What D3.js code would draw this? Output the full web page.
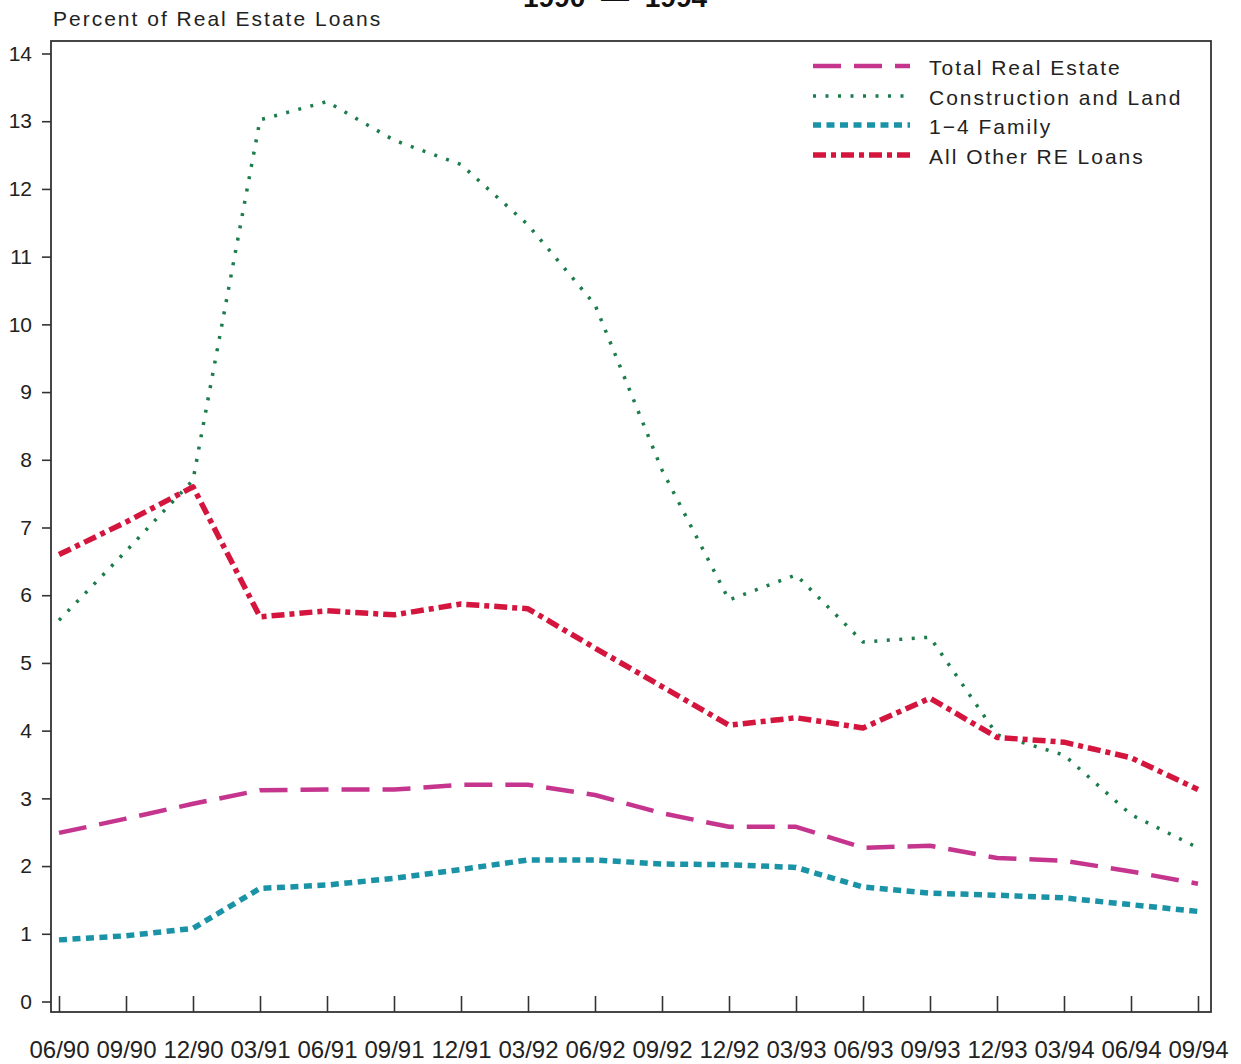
<!DOCTYPE html>
<html><head><meta charset="utf-8">
<script src="https://cdn.jsdelivr.net/npm/d3@7"></script>
<style>html,body{margin:0;padding:0;background:#fff;}svg{display:block;}</style>
</head><body>
<script>
const categories = ["06/90","09/90","12/90","03/91","06/91","09/91","12/91","03/92","06/92","09/92","12/92","03/93","06/93","09/93","12/93","03/94","06/94","09/94"];
const totalRealEstate = [2.49,2.70,2.92,3.12,3.13,3.13,3.20,3.20,3.05,2.78,2.58,2.58,2.27,2.30,2.12,2.08,1.92,1.74];
const constructionLand = [5.63,6.65,7.70,13.02,13.29,12.72,12.36,11.47,10.29,7.85,5.93,6.30,5.31,5.38,3.94,3.64,2.76,2.27];
const oneToFourFamily = [0.91,0.97,1.08,1.67,1.72,1.82,1.95,2.09,2.09,2.03,2.02,1.98,1.69,1.60,1.57,1.53,1.43,1.33];
const allOtherRE = [6.60,7.08,7.60,5.68,5.77,5.71,5.87,5.80,5.22,4.65,4.08,4.19,4.04,4.48,3.90,3.83,3.60,3.13];
const yTicks = [0,1,2,3,4,5,6,7,8,9,10,11,12,13,14];
const seriesNames = ["Total Real Estate","Construction and Land","1\u22124 Family","All Other RE Loans"];

const series = [
  {name: seriesNames[0], values: totalRealEstate, color: "#c5358e", width: 4.5, dash: "28,13", cap: "butt"},
  {name: seriesNames[1], values: constructionLand, color: "#1d7c4c", width: 3.5, dash: "3,9.5", cap: "butt"},
  {name: seriesNames[2], values: oneToFourFamily, color: "#1a93a6", width: 5.5, dash: "8,5.5", cap: "butt"},
  {name: seriesNames[3], values: allOtherRE, color: "#d4163e", width: 5.5, dash: "13,5,5,5", cap: "butt"}
];

const W = 1241, H = 1064;
const svg = d3.select("body").append("svg").attr("width", W).attr("height", H)
  .style("font-family", "'Liberation Sans', Arial, sans-serif");

const frame = {left: 51, top: 41, right: 1211, bottom: 1012};
const x = d3.scalePoint().domain(categories).range([59, 1198]);
const y = d3.scaleLinear().domain([0, 14]).range([1001.5, 53.5]);

// title (cropped at top, as in the reference)
svg.append("text").attr("x", 615).attr("y", 7).attr("text-anchor", "middle")
  .style("font-weight", "bold").style("font-size", "28px").style("word-spacing", "8px")
  .attr("fill", "#111").text("1990 \u2014 1994");

// y axis title
svg.append("text").attr("x", 53).attr("y", 26)
  .style("font-size", "21px").style("letter-spacing", "2px")
  .attr("fill", "#222").text("Percent of Real Estate Loans");

// frame
svg.append("rect").attr("x", frame.left).attr("y", frame.top)
  .attr("width", frame.right - frame.left).attr("height", frame.bottom - frame.top)
  .attr("fill", "none").attr("stroke", "#333").attr("stroke-width", 1.8);

// y axis
const yAxis = svg.append("g").attr("transform", `translate(${frame.left},0)`)
  .call(d3.axisLeft(y).tickValues(yTicks).tickSize(9).tickPadding(10).tickFormat(d3.format("d")));
yAxis.select(".domain").remove();
yAxis.selectAll(".tick line").attr("stroke", "#333").attr("stroke-width", 1.6);
yAxis.selectAll(".tick text").style("font-size", "21px").style("font-family", "'Liberation Sans', Arial, sans-serif").attr("fill", "#222");

// x axis
const xAxis = svg.append("g").attr("transform", `translate(0,${frame.bottom})`)
  .call(d3.axisBottom(x).tickSizeInner(-16).tickSizeOuter(0).tickPadding(0));
xAxis.select(".domain").remove();
xAxis.selectAll(".tick line").attr("stroke", "#333").attr("stroke-width", 1.6);
xAxis.selectAll(".tick text").attr("y", 46).attr("dy", null)
  .style("font-size", "24px").style("font-family", "'Liberation Sans', Arial, sans-serif").attr("fill", "#222");

// lines
const line = d3.line().x((d, i) => x(categories[i])).y(d => y(d)).curve(d3.curveLinear);
const g = svg.append("g");
series.forEach(s => {
  g.append("path").datum(s.values).attr("d", line)
    .attr("fill", "none").attr("stroke", s.color).attr("stroke-width", s.width)
    .attr("stroke-dasharray", s.dash).attr("stroke-linecap", s.cap).attr("stroke-linejoin", "round");
});

// legend
const legendRows = [66, 96, 125, 155];
const lg = svg.append("g");
series.forEach((s, i) => {
  lg.append("line").attr("x1", 813).attr("x2", 910).attr("y1", legendRows[i]).attr("y2", legendRows[i])
    .attr("stroke", s.color).attr("stroke-width", s.width).attr("stroke-dasharray", s.dash);
  lg.append("text").attr("x", 929).attr("y", legendRows[i] + 9)
    .style("font-size", "21px").style("letter-spacing", "2px").attr("fill", "#222").text(s.name);
});
</script>
</body></html>
